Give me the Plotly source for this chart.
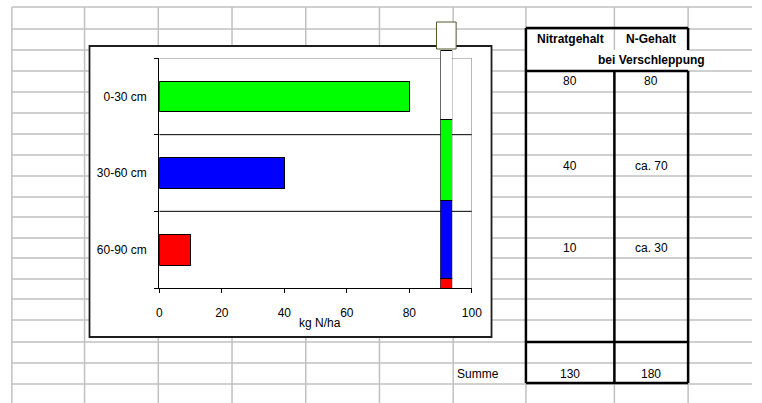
import plotly.graph_objects as go

# ---------------- data ----------------
depths = ["0-30 cm", "30-60 cm", "60-90 cm"]
nitrat = [80, 40, 10]
bar_colors = ["#00ff00", "#0000ff", "#ff0000"]
x_ticks = [0, 20, 40, 60, 80, 100]
x_title = "kg N/ha"

# stacked column (bottom to top)
column_values = [10, 78, 81, 69]
column_colors = ["#ff0000", "#0000ff", "#00ff00", "#ffffff"]

table_head = ["Nitratgehalt", "N-Gehalt"]
table_sub = "bei Verschleppung"
nitrat_text = ["80", "40", "10"]
n_text = ["80", "ca. 70", "ca. 30"]
sum_label = "Summe"
sums = ["130", "180"]

# ---------------- layout geometry (pixels) ----------------
W, H = 762, 403
COL_EDGES = [9, 83, 158, 233, 308, 383, 458, 532, 622, 697]
ROW_EDGES = [7, 29, 50, 71, 92, 113, 134, 155, 176, 197, 217, 238, 258,
             279, 299, 320, 342, 363, 384]
CHART_BOX = (88, 46, 497, 337)
PLOT_BOX = (159, 58, 477, 288)
COLUMN_X = (445, 457)
COLUMN_TOP = 50
HANDLE = (441, 22, 461, 49)
FONT = "Liberation Sans, Arial, sans-serif"
GRID = "#c0c0c0"


def px(x):
    return x / W


def py(y):
    return 1 - y / H


shapes = []


def seg(x0, y0, x1, y1, color=GRID, width=1.5, layer="below"):
    shapes.append(dict(type="line", xref="paper", yref="paper",
                       x0=px(x0), y0=py(y0), x1=px(x1), y1=py(y1),
                       line=dict(color=color, width=width), layer=layer))


# spreadsheet gridlines
tab_l, tab_m, tab_r = 532, 622, 697
for y in ROW_EDGES:
    if y == 50:
        seg(COL_EDGES[0], y, tab_l, y)
        seg(tab_r, y, W, y)
    else:
        seg(COL_EDGES[0], y, W, y)
for x in COL_EDGES:
    if x in (tab_m, tab_r):
        seg(x, ROW_EDGES[0], x, 50)
        seg(x, 71, x, H)
    else:
        seg(x, ROW_EDGES[0], x, H)

# chart area
cx0, cy0, cx1, cy1 = CHART_BOX
shapes.append(dict(type="rect", xref="paper", yref="paper",
                   x0=px(cx0), y0=py(cy1), x1=px(cx1), y1=py(cy0),
                   fillcolor="white", line=dict(color="#1e1e1e", width=1.8),
                   layer="below"))

# plot-area border (grey top/right) and category separators
shapes.append(dict(type="line", xref="x", yref="y", x0=0, x1=100, y0=-0.5, y1=-0.5,
                   line=dict(color="#808080", width=1), layer="below"))
shapes.append(dict(type="line", xref="x", yref="y", x0=100, x1=100, y0=-0.5, y1=2.5,
                   line=dict(color="#808080", width=1), layer="below"))
for b in (0.5, 1.5):
    shapes.append(dict(type="line", xref="x", yref="y", x0=0, x1=100, y0=b, y1=b,
                       line=dict(color="black", width=1), layer="below"))

# table borders
TB = 2.5
seg(tab_l, 28, tab_r, 28, "black", TB)
seg(tab_l, 28, tab_l, 383, "black", TB)
seg(tab_r, 28, tab_r, 50, "black", TB)
seg(tab_r, 71, tab_r, 383, "black", TB)
seg(tab_l, 71, tab_r, 71, "black", TB)
seg(tab_m, 71, tab_m, 383, "black", TB)
seg(tab_l, 342, tab_r, 342, "black", TB)
seg(tab_l, 383, tab_r, 383, "black", TB)

# selection handle above column
hx0, hy0, hx1, hy1 = HANDLE
shapes.append(dict(type="rect", xref="paper", yref="paper",
                   x0=px(hx0), y0=py(hy1), x1=px(hx1), y1=py(hy0),
                   fillcolor="white", line=dict(color="#55552a", width=1),
                   layer="above"))

# ---------------- traces ----------------
fig = go.Figure()
fig.add_trace(go.Bar(
    x=nitrat, y=list(range(len(depths))), orientation="h", width=0.4,
    marker=dict(color=bar_colors, line=dict(color="black", width=1)),
    xaxis="x", yaxis="y", showlegend=False, hoverinfo="skip"))

for v, c in zip(column_values, column_colors):
    fig.add_trace(go.Bar(
        x=[0], y=[v], width=1, marker=dict(color=c, line=dict(color="black", width=1)),
        xaxis="x2", yaxis="y2", showlegend=False, hoverinfo="skip"))

# ---------------- annotations ----------------
ann = []


def text(x, y, t, xanchor="center", bold=False, size=12):
    ann.append(dict(xref="paper", yref="paper", x=px(x), y=py(y), text=(f"<b>{t}</b>" if bold else t),
                    showarrow=False, xanchor=xanchor, yanchor="middle",
                    font=dict(family=FONT, size=size, color="black")))


c1 = (tab_l + tab_m) / 2
c2 = (tab_m + tab_r) / 2
text(c1, 39, table_head[0], bold=True)
text(c2, 39, table_head[1], bold=True)
text(c2, 60, table_sub, bold=True)
value_rows = [3, 7, 11]
for r, a, b in zip(value_rows, nitrat_text, n_text):
    yc = (ROW_EDGES[r] + ROW_EDGES[r + 1]) / 2
    text(c1, yc, a)
    text(c2, yc, b)
ys = (ROW_EDGES[17] + ROW_EDGES[18]) / 2
text(460, ys, sum_label, xanchor="left")
text(c1, ys, sums[0])
text(c2, ys, sums[1])
text(322, 323, x_title)

# ---------------- layout ----------------
p0, q0, p1, q1 = PLOT_BOX
fig.update_layout(
    width=W, height=H, autosize=False, margin=dict(l=0, r=0, t=0, b=0),
    paper_bgcolor="white", plot_bgcolor="rgba(0,0,0,0)",
    barmode="stack", shapes=shapes, annotations=ann,
    font=dict(family=FONT, size=12, color="black"),
    xaxis=dict(domain=[px(p0), px(p1)], range=[0, 100], tickvals=x_ticks,
               ticks="outside", ticklen=4, tickcolor="black", showline=True,
               linecolor="black", linewidth=1, showgrid=False, zeroline=False,
               anchor="y", ticklabelstandoff=10, fixedrange=True),
    yaxis=dict(domain=[py(q1), py(q0)], range=[2.5, -0.5], tickvals=[0, 1, 2],
               ticktext=depths, ticks="", showline=True, linecolor="black",
               linewidth=1, showgrid=False, zeroline=False, anchor="x",
               ticklabelstandoff=9, fixedrange=True,
               minor=dict(tickvals=[-0.5, 0.5, 1.5, 2.5], ticks="outside", ticklen=4,
                          tickcolor="black", tickwidth=1, showgrid=False)),
    xaxis2=dict(domain=[px(COLUMN_X[0]), px(COLUMN_X[1])], range=[-0.5, 0.5],
                visible=False, anchor="y2", fixedrange=True),
    yaxis2=dict(domain=[py(q1), py(COLUMN_TOP)], range=[0, sum(column_values)],
                visible=False, anchor="x2", fixedrange=True),
)

fig.write_html(
    "out.html",
    config={"displayModeBar": False, "responsive": False},
    post_script=(
        "document.documentElement.style.overflow='hidden';"
        "document.body.style.margin='0';document.body.style.overflow='hidden';"
        "var gd=document.getElementById('{plot_id}');"
        "Plotly.relayout(gd,{width:762,height:403});"
    ),
)
